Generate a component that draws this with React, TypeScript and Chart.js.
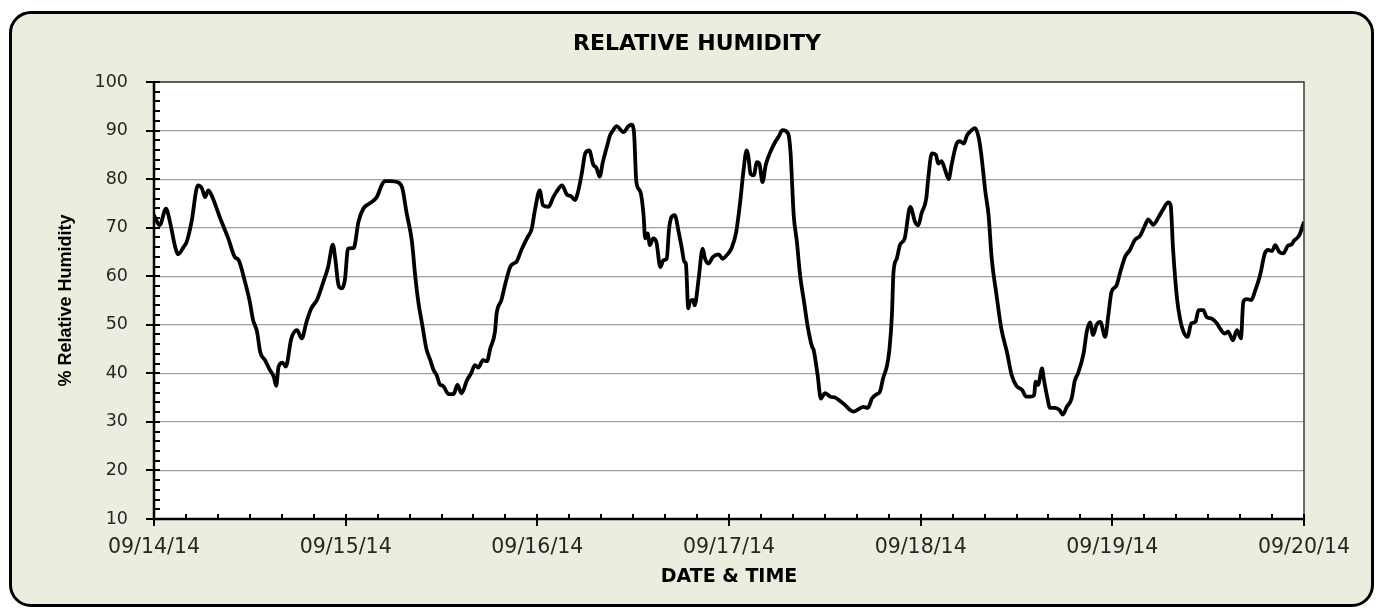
import React, { useEffect, useRef } from "react";
import { Chart, registerables } from "chart.js";

Chart.register(...registerables);

// Hours since 09/14/14 00:00
const HOURS = [
  0, 0.7, 1.5, 2.0, 2.6, 3.0, 3.7, 4.1, 4.7, 5.5, 6.0, 6.4, 6.8, 7.2, 8.3, 9.3, 10.1, 10.6, 11.4, 12.0,
  12.4, 12.9, 13.3, 13.9, 14.5, 15.0, 15.3, 15.6, 16.1, 16.5, 17.2, 17.9, 18.5, 19.1, 19.7, 20.4, 21.2, 21.8, 22.4, 22.7,
  23.1, 23.5, 23.9, 24.3, 25.0, 25.6, 26.2, 27.0, 27.9, 28.5, 28.9, 29.6, 30.6, 31.1, 31.6, 32.3, 32.7, 33.1, 33.6, 34.1,
  34.6, 35.0, 35.4, 35.8, 36.2, 36.9, 37.5, 38.0, 38.5, 39.2, 39.7, 40.2, 40.6, 41.2, 41.7, 42.1, 42.7, 42.9, 43.5, 44.0,
  44.6, 45.0, 45.4, 46.0, 46.7, 47.3, 47.7, 48.3, 48.7, 49.4, 50.0, 50.4, 51.1, 51.7, 52.2, 52.7, 53.1, 53.6, 54.0, 54.5,
  55.0, 55.4, 55.8, 56.2, 56.7, 57.1, 57.5, 57.9, 58.8, 59.4, 59.8, 60.1, 60.4, 60.9, 61.3, 61.5, 61.8, 62.1, 62.5, 62.9,
  63.4, 63.8, 64.2, 64.5, 64.8, 65.2, 65.7, 66.1, 66.4, 66.6, 66.9, 67.1, 67.5, 67.7, 68.2, 68.7, 69.0, 69.4, 70.0, 70.7,
  71.2, 71.7, 72.3, 72.9, 73.4, 73.8, 74.2, 74.4, 74.7, 75.1, 75.5, 75.8, 76.2, 76.6, 77.1, 77.8, 78.2, 78.7, 79.4, 79.7,
  80.1, 80.5, 80.9, 81.4, 81.9, 82.4, 82.6, 83.1, 83.5, 84.0, 84.7, 85.3, 85.9, 86.5, 87.2, 87.6, 88.2, 88.8, 89.4, 89.9,
  90.5, 90.9, 91.3, 91.8, 92.1, 92.4, 92.6, 93.0, 93.4, 94.0, 94.7, 95.3, 95.7, 96.1, 96.7, 96.9, 97.4, 97.9, 98.2, 98.6,
  99.0, 99.5, 99.9, 100.5, 100.9, 101.4, 101.8, 102.4, 102.8, 103.3, 103.6, 104.1, 104.5, 104.9, 105.5, 106.1, 106.8, 107.4, 108.0, 108.7,
  109.2, 109.7, 110.2, 110.4, 110.7, 111.2, 111.4, 111.8, 112.2, 112.8, 113.4, 113.8, 114.3, 114.9, 115.3, 115.7, 116.4, 116.8, 117.2, 117.6,
  118.0, 118.5, 119.1, 119.5, 119.9, 120.5, 121.0, 121.6, 122.2, 122.8, 123.5, 124.1, 124.5, 125.1, 125.8, 126.4, 127.0, 127.3, 127.6, 128.1,
  128.5, 128.9, 129.4, 129.9, 130.4, 130.8, 131.4, 131.8, 132.4, 133.1, 133.5, 134.1, 134.5, 135.1, 135.6, 136.1, 136.4, 136.8, 137.4, 137.9,
  138.5, 139.1, 139.5, 140.0, 140.4, 140.9, 141.4, 142.0, 142.4, 142.8, 143.4, 144.0,
];

// % relative humidity
const RH = [
  72.6, 70.5, 73.9, 71.2, 66.4, 64.5, 66.0, 67.1, 71.2, 78.7, 78.1, 76.3, 77.7, 76.7, 71.9, 67.8, 64.0, 63.3, 58.8, 54.7,
  51.0, 48.6, 44.4, 42.7, 40.7, 39.3, 37.4, 41.4, 42.2, 41.4, 47.2, 48.9, 47.2, 50.6, 53.4, 55.1, 58.8, 61.9, 66.5, 63.6,
  58.2, 57.5, 59.2, 65.7, 65.8, 71.2, 73.9, 75.0, 76.3, 78.7, 79.6, 79.6, 79.3, 78.1, 73.3, 67.1, 60.2, 54.7, 49.9, 45.1,
  42.7, 40.7, 39.6, 37.7, 37.4, 35.7, 35.7, 37.6, 35.9, 38.6, 40.0, 41.7, 41.2, 42.7, 42.5, 45.1, 48.6, 52.3, 55.1, 58.5,
  61.9, 62.6, 63.0, 65.4, 67.8, 69.8, 73.6, 77.7, 74.6, 74.3, 76.3, 77.4, 78.7, 76.8, 76.5, 75.7, 77.4, 81.5, 85.3, 85.9,
  83.0, 82.3, 80.5, 83.5, 86.6, 89.0, 90.1, 90.9, 89.7, 90.9, 91.2, 89.7, 79.4, 77.4, 72.6, 67.8, 68.8, 66.4, 67.8, 67.1,
  61.9, 63.3, 63.6, 69.8, 72.2, 72.6, 69.1, 65.7, 63.0, 62.6, 53.4, 54.7, 55.1, 54.0, 59.5, 65.7, 63.6, 62.6, 64.0, 64.5,
  63.6, 64.3, 65.7, 69.1, 75.3, 81.5, 85.9, 84.9, 81.1, 80.8, 83.5, 83.2, 79.4, 82.9, 85.3, 87.7, 88.7, 90.1, 89.4, 85.6,
  72.6, 67.1, 60.2, 54.7, 49.2, 45.5, 44.8, 39.6, 34.8, 35.9, 35.2, 35.0, 34.3, 33.5, 32.4, 32.1, 32.6, 33.1, 32.9, 34.8,
  35.7, 36.2, 39.0, 41.7, 45.1, 52.0, 60.9, 63.6, 66.4, 67.8, 74.3, 71.2, 70.5, 72.9, 76.0, 79.4, 85.3, 85.0, 83.2, 83.7,
  82.2, 80.0, 83.2, 87.3, 87.8, 87.3, 89.0, 90.1, 90.5, 88.3, 84.9, 77.4, 72.6, 63.6, 56.1, 49.2, 44.4, 39.6, 37.4, 36.6,
  35.2, 35.2, 35.5, 38.3, 37.6, 41.0, 39.0, 35.5, 32.9, 32.9, 32.4, 31.5, 33.1, 34.8, 38.5, 40.0, 44.1, 48.6, 50.5, 47.9,
  49.9, 50.6, 47.5, 52.0, 56.8, 58.0, 60.9, 64.0, 65.4, 67.4, 68.4, 70.5, 71.7, 70.6, 72.2, 73.9, 75.2, 74.6, 65.7, 55.4,
  51.0, 48.6, 47.5, 50.3, 50.6, 53.0, 53.0, 51.6, 51.3, 50.3, 49.2, 48.2, 48.6, 46.8, 48.9, 47.2, 54.7, 55.3, 55.1, 57.1,
  60.2, 64.7, 65.4, 65.2, 66.4, 65.0, 64.7, 66.3, 66.5, 67.4, 68.4, 71.2,
];

const DAY_LABELS = ["09/14/14", "09/15/14", "09/16/14", "09/17/14", "09/18/14", "09/19/14", "09/20/14"];
const TITLE = "RELATIVE HUMIDITY";
const X_TITLE = "DATE & TIME";
const Y_TITLE = "% Relative Humidity";

const Y_MIN = 10;
const Y_MAX = 100;
const Y_STEP = 10;
const Y_MINOR = 2;
const X_MIN = 0;
const X_MAX = 144;
const X_STEP = 24;
const X_MINOR = 4;

export default function App() {
  const ref = useRef<HTMLCanvasElement>(null);

  useEffect(() => {
    const canvas = ref.current;
    if (!canvas) return;

    const decor = {
      id: "decor",
      beforeDraw(chart: any) {
        const { ctx, chartArea } = chart;
        ctx.save();
        ctx.fillStyle = "#ffffff";
        ctx.fillRect(chartArea.left, chartArea.top, chartArea.right - chartArea.left, chartArea.bottom - chartArea.top);
        ctx.restore();
      },
      afterDraw(chart: any) {
        const { ctx, chartArea } = chart;
        const xs = chart.scales.x;
        const ys = chart.scales.y;
        ctx.save();
        // top/right frame
        ctx.strokeStyle = "#3c3c3c";
        ctx.lineWidth = 1.5;
        ctx.beginPath();
        ctx.moveTo(chartArea.left, chartArea.top);
        ctx.lineTo(chartArea.right, chartArea.top);
        ctx.lineTo(chartArea.right, chartArea.bottom);
        ctx.stroke();
        // axes
        ctx.strokeStyle = "#000";
        ctx.lineWidth = 2.5;
        ctx.beginPath();
        ctx.moveTo(chartArea.left, chartArea.top);
        ctx.lineTo(chartArea.left, chartArea.bottom);
        ctx.lineTo(chartArea.right, chartArea.bottom);
        ctx.stroke();
        // y ticks
        ctx.lineWidth = 2;
        for (let v = Y_MIN; v <= Y_MAX; v += Y_MINOR) {
          const y = Math.round(ys.getPixelForValue(v));
          const major = (v - Y_MIN) % Y_STEP === 0;
          ctx.beginPath();
          ctx.moveTo(chartArea.left - (major ? 8 : 0), y);
          ctx.lineTo(chartArea.left + 6, y);
          ctx.stroke();
        }
        // x ticks
        for (let h = X_MIN; h <= X_MAX; h += X_MINOR) {
          const x = Math.round(xs.getPixelForValue(h));
          const major = (h - X_MIN) % X_STEP === 0;
          ctx.beginPath();
          ctx.moveTo(x, chartArea.bottom - 5);
          ctx.lineTo(x, chartArea.bottom + (major ? 7 : 0));
          ctx.stroke();
        }
        // chart title
        ctx.fillStyle = "#000";
        ctx.font = "bold 22px 'DejaVu Sans'";
        ctx.textAlign = "center";
        ctx.textBaseline = "middle";
        ctx.fillText(TITLE, 697, 44);
        ctx.restore();
      },
    };

    const chart = new Chart(canvas, {
      type: "line",
      data: {
        datasets: [
          {
            label: "RH",
            data: HOURS.map((h, i) => ({ x: h, y: RH[i] })),
            borderColor: "#000000",
            borderWidth: 3.8,
            pointRadius: 0,
            cubicInterpolationMode: "monotone",
            fill: false,
          },
        ],
      },
      options: {
        animation: false,
        responsive: false,
        events: [],
        layout: { padding: { top: 82, left: 0, right: 74, bottom: 0 } },
        plugins: {
          legend: { display: false },
          title: { display: false },
          tooltip: { enabled: false },
        },
        scales: {
          x: {
            type: "linear",
            min: X_MIN,
            max: X_MAX,
            afterFit: (s: any) => {
              s.height = 89;
            },
            grid: { display: false, drawTicks: false },
            border: { display: false },
            ticks: {
              stepSize: X_STEP,
              autoSkip: false,
              maxRotation: 0,
              padding: 16,
              color: "#262626",
              font: { family: "'DejaVu Sans'", size: 20.5 },
              callback: (v: any) => DAY_LABELS[Math.round(Number(v) / X_STEP)] ?? "",
            },
            title: {
              display: true,
              text: X_TITLE,
              color: "#000",
              font: { family: "'DejaVu Sans'", size: 19, weight: "bold" },
              padding: { top: 0, bottom: 20 },
            },
          },
          y: {
            min: Y_MIN,
            max: Y_MAX,
            afterFit: (s: any) => {
              s.width = 154;
            },
            grid: { color: "#a0a0a0", lineWidth: 1.2, drawTicks: false },
            border: { display: false },
            ticks: {
              stepSize: Y_STEP,
              padding: 26,
              color: "#262626",
              font: { family: "'DejaVu Sans'", size: 17.5 },
            },
            title: {
              display: true,
              text: Y_TITLE,
              color: "#000",
              font: { family: "'Liberation Sans'", size: 18, weight: "bold" },
              padding: { top: 55, bottom: 0 },
            },
          },
        },
      },
      plugins: [decor],
    });

    return () => chart.destroy();
  }, []);

  return (
    <div style={{ position: "fixed", left: 0, top: 0, width: 1378, height: 608, background: "#ffffff" }}>
      <div
        style={{
          position: "absolute",
          left: 9,
          top: 11,
          width: 1365,
          height: 596,
          boxSizing: "border-box",
          border: "3px solid #000",
          borderRadius: 22,
          background: "#EBEEDF",
        }}
      />
      <canvas ref={ref} width={1378} height={608} style={{ position: "absolute", left: 0, top: 0 }} />
    </div>
  );
}
